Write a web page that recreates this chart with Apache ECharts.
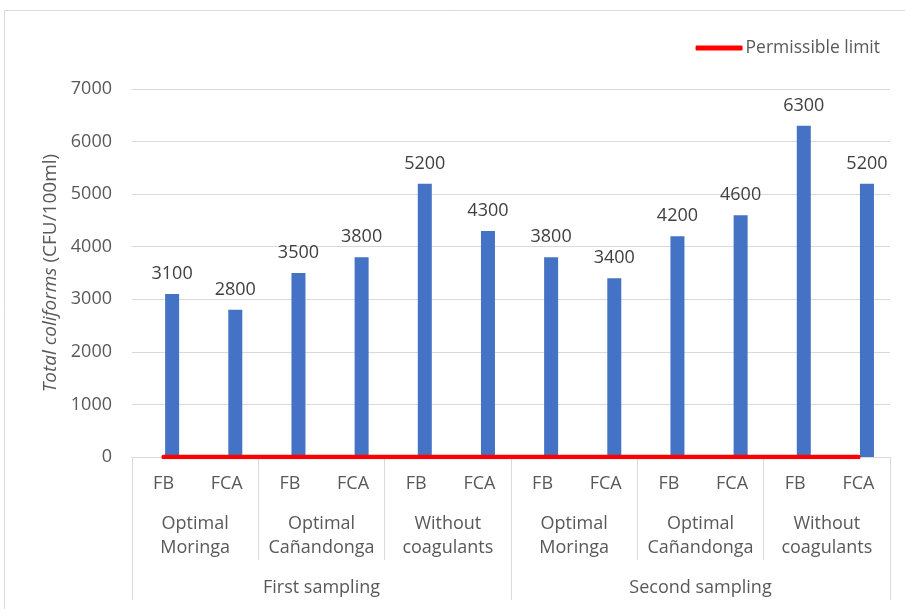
<!DOCTYPE html>
<html>
<head>
<meta charset="utf-8">
<script src="https://cdn.jsdelivr.net/npm/echarts@6/dist/echarts.min.js"></script>
<style>
  html, body { margin: 0; padding: 0; background: #ffffff; }
  #chart { width: 905px; height: 609px; }
</style>
</head>
<body>
<div id="chart"></div>
<script>
// Treatment columns (innermost axis level)
const treatments = ['FB', 'FCA', 'FB', 'FCA', 'FB', 'FCA', 'FB', 'FCA', 'FB', 'FCA', 'FB', 'FCA'];
// Coagulant condition (middle axis level)
const conditions = ['Optimal\nMoringa', 'Optimal\nCañandonga', 'Without\ncoagulants',
                    'Optimal\nMoringa', 'Optimal\nCañandonga', 'Without\ncoagulants'];
// Sampling campaign (outer axis level)
const samplings = ['First sampling', 'Second sampling'];
// Total coliforms, CFU/100ml
const coliforms = [3100, 2800, 3500, 3800, 5200, 4300, 3800, 3400, 4200, 4600, 6300, 5200];
// Permissible limit for total coliforms
const permissibleLimit = [0, 0, 0, 0, 0, 0, 0, 0, 0, 0, 0, 0];
// Y axis range
const yMin = 0, yMax = 7000, yStep = 1000;

const FONT = '"Open Sans", "Liberation Sans", sans-serif';
const GREY = '#595959';
const LINE = '#d9d9d9';

const chart = echarts.init(document.getElementById('chart'), null, { renderer: 'canvas' });

const option = {
  backgroundColor: '#ffffff',
  animation: false,
  textStyle: { fontFamily: FONT },
  graphic: [{
    type: 'rect',
    shape: { x: 4.5, y: 10.5, width: 910, height: 610 },
    style: { fill: 'none', stroke: LINE, lineWidth: 1 },
    silent: true
  }],
  legend: {
    data: [{ name: 'Permissible limit', icon: 'roundRect' }],
    right: 20,
    top: 34,
    itemWidth: 47,
    itemHeight: 5,
    itemGap: 10,
    textStyle: { fontFamily: FONT, fontSize: 17.5, color: GREY, padding: [0, 0, 0, -2] }
  },
  grid: { left: 132, right: 15, top: 89, bottom: 152, containLabel: false },
  xAxis: [
    {
      type: 'category',
      data: treatments,
      position: 'bottom',
      axisLine: { show: true, lineStyle: { color: LINE, width: 1 } },
      axisTick: { show: false },
      axisLabel: { interval: 0, margin: 15, fontFamily: FONT, fontSize: 18, color: GREY, lineHeight: 24 },
      splitLine: { show: false }
    },
    {
      type: 'category',
      data: conditions,
      position: 'bottom',
      axisLine: { show: false },
      axisTick: { show: true, interval: 0, length: 103, lineStyle: { color: LINE, width: 1 } },
      axisLabel: { interval: 0, margin: 55, fontFamily: FONT, fontSize: 18, color: GREY, lineHeight: 24 },
      splitLine: { show: false }
    },
    {
      type: 'category',
      data: samplings,
      position: 'bottom',
      axisLine: { show: false },
      axisTick: { show: true, interval: 0, length: 143, lineStyle: { color: LINE, width: 1 } },
      axisLabel: { interval: 0, margin: 119, fontFamily: FONT, fontSize: 18, color: GREY, lineHeight: 24 },
      splitLine: { show: false }
    }
  ],
  yAxis: {
    type: 'value',
    min: yMin,
    max: yMax,
    interval: yStep,
    axisLine: { show: false },
    axisTick: { show: false },
    axisLabel: { margin: 20, fontFamily: FONT, fontSize: 18, color: GREY, formatter: v => String(v) },
    splitLine: { lineStyle: { color: LINE, width: 1 } },
    name: '{i|Total coliforms} (CFU/100ml)',
    nameLocation: 'middle',
    nameRotate: 90,
    nameGap: 61,
    nameTextStyle: {
      fontFamily: FONT, fontSize: 19, color: GREY,
      rich: { i: { fontFamily: FONT, fontSize: 19, color: GREY, fontStyle: 'italic' } }
    }
  },
  series: [
    {
      // empty leading column slot of the cluster
      name: 'slot',
      type: 'bar',
      xAxisIndex: 0,
      data: [],
      barWidth: 14,
      barGap: '22%'
    },
    {
      name: 'Total coliforms',
      type: 'bar',
      xAxisIndex: 0,
      data: coliforms,
      barWidth: 14,
      barGap: '22%',
      itemStyle: { color: '#4472C4' },
      label: {
        show: true,
        position: 'top',
        distance: 11,
        fontFamily: FONT,
        fontSize: 18,
        color: '#404040'
      },
      z: 2
    },
    {
      name: 'Permissible limit',
      type: 'line',
      xAxisIndex: 0,
      data: permissibleLimit,
      symbol: 'none',
      lineStyle: { color: '#ff0000', width: 4.5, cap: 'round' },
      itemStyle: { color: '#ff0000' },
      z: 5
    }
  ]
};

chart.setOption(option);
</script>
</body>
</html>
